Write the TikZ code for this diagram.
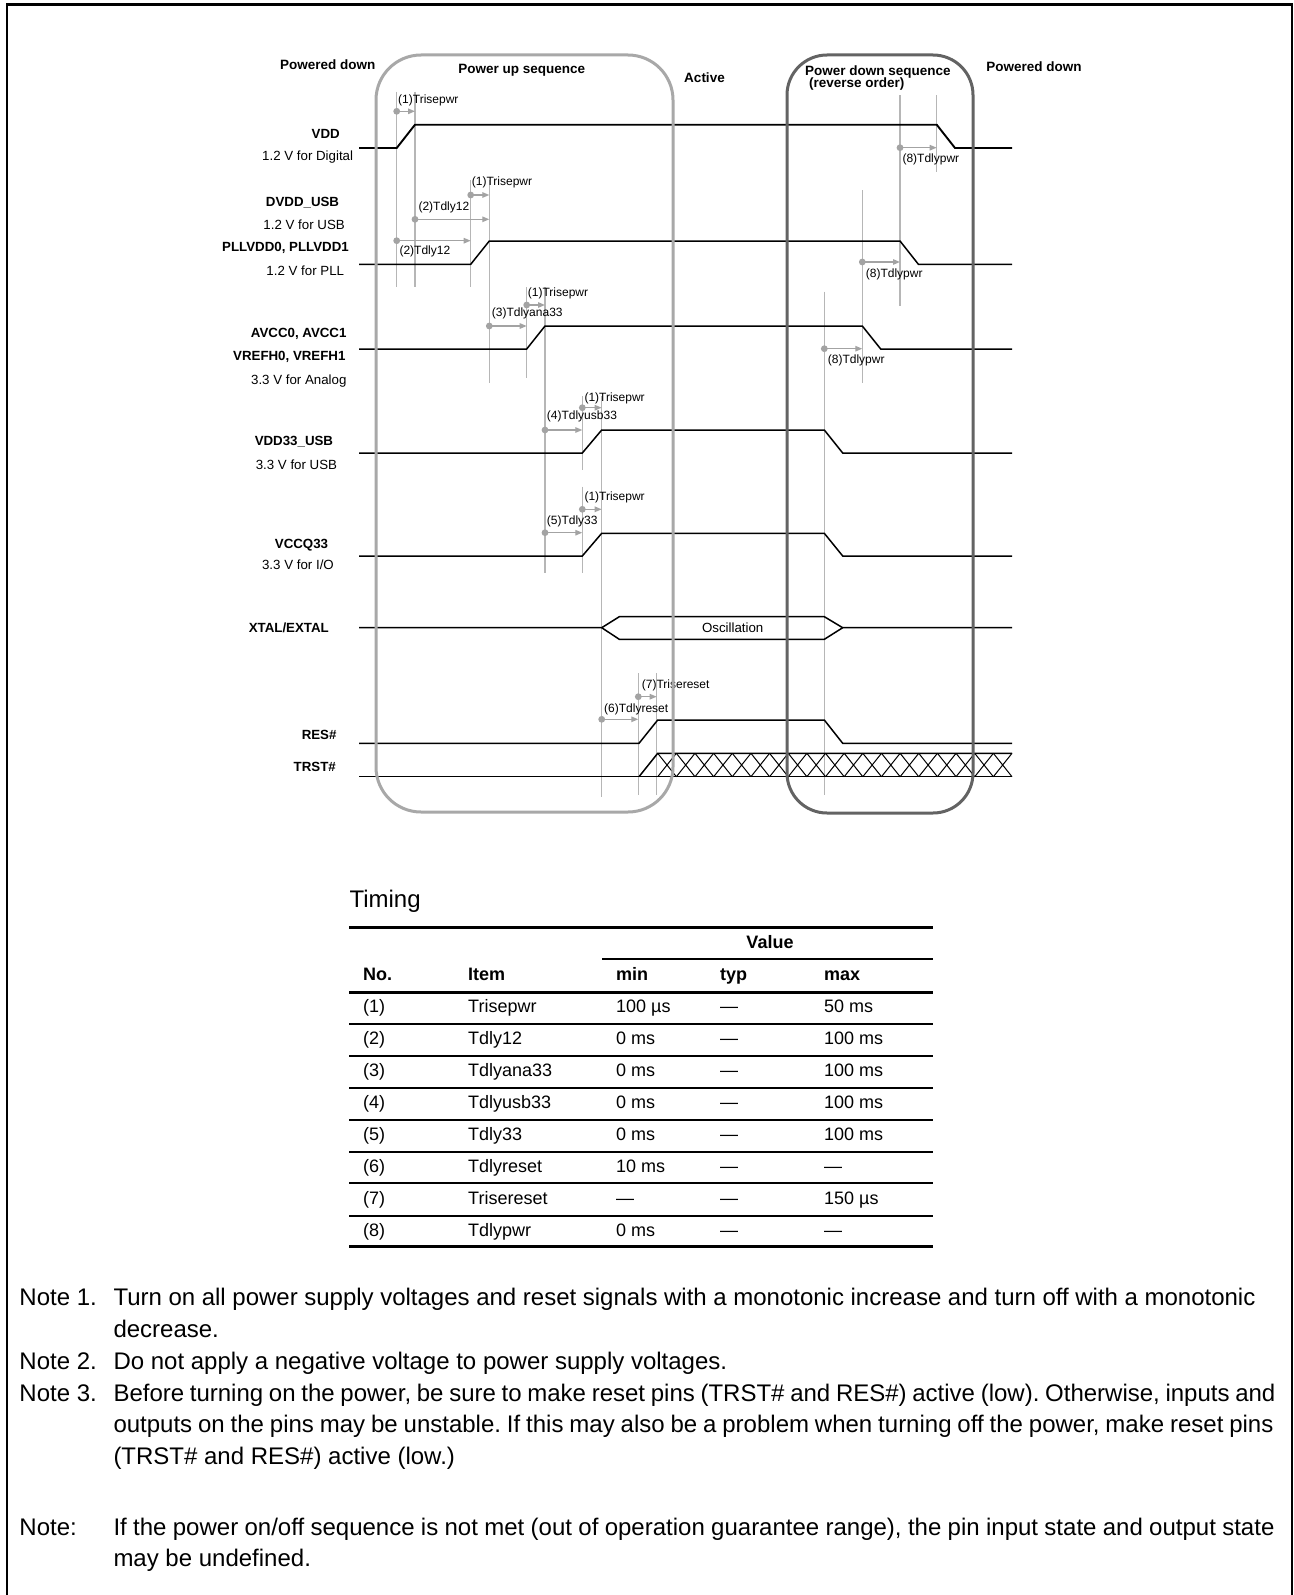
\documentclass[tikz,border=0pt]{standalone}
\usepackage{fontspec}
\setmainfont{Liberation Sans}
\usetikzlibrary{arrows.meta}
\definecolor{boxa}{HTML}{A8A8A8}
\definecolor{boxb}{HTML}{636363}
\definecolor{tgray}{HTML}{B6B6B6}
\definecolor{dgray}{HTML}{A3A3A3}
\frenchspacing
\begin{document}
\begin{tikzpicture}[x=1pt,y=-1pt,
  sig/.style={font=\fontsize{13.3}{15}\selectfont\bfseries, inner sep=0pt, anchor=east},
  sub/.style={font=\fontsize{13.3}{15}\selectfont, inner sep=0pt, anchor=east},
  hdr/.style={font=\fontsize{13.5}{15}\selectfont\bfseries, inner sep=0pt},
  tlab/.style={font=\fontsize{12}{14}\selectfont, inner sep=0pt, anchor=west},
  wave/.style={line width=1.5pt, black, line join=miter},
  tline/.style={line width=1.3pt, tgray},
  tarrow/.style={line width=1.3pt, dgray, -{Triangle[length=7pt,width=5.5pt]}},
  tdot/.style={circle, fill=dgray, inner sep=0pt, minimum size=6.8pt},
  boxone/.style={line width=3pt, boxa, rounded corners=45pt},
  boxtwo/.style={line width=3pt, boxb, rounded corners=40pt},
  cell/.style={font=\fontsize{18}{20}\selectfont, inner sep=0pt, anchor=west, text height=13pt, text depth=4pt},
  hcell/.style={font=\fontsize{18}{20}\selectfont\bfseries, inner sep=0pt, anchor=west, text height=13pt, text depth=4pt},
  note/.style={font=\fontsize{24}{28}\selectfont, inner sep=0pt, anchor=west, text height=17.5pt, text depth=5pt}
]
\useasboundingbox (0,0) rectangle (1293,1595);
% frame
\draw[line width=2.3pt] (7.2,1600) -- (7.2,4.5) -- (1291.8,4.5) -- (1291.8,1600);

% ---------- header labels
\node[hdr] (pd1) at (327.7,65) {Powered down};
\node[hdr] (pus) at (521.7,70.7) {Power up sequence};
\node[hdr] (act) at (704.5,77.3) {Active};
\node[hdr, anchor=west] (pds) at (805,71.7) {Power down sequence};
\node[hdr, anchor=west] (rev) at (809,84.5) {(reverse order)};
\node[hdr] (pd2) at (1034,66.5) {Powered down};

% ---------- signal labels
\node[sig] (lvdd) at (340,134.3) {VDD};
\node[sub] (svdd) at (353.3,157.3) {1.2 V for Digital};
\node[sig] (ldv) at (339.3,202.3) {DVDD\_USB};
\node[sub] (sdv) at (345,225) {1.2 V for USB};
\node[sig] (lpll) at (349,248.3) {PLLVDD0, PLLVDD1};
\node[sub] (spll) at (344.3,270.7) {1.2 V for PLL};
\node[sig] (lav) at (346.7,334.3) {AVCC0, AVCC1};
\node[sig] (lvr) at (345.7,356.7) {VREFH0, VREFH1};
\node[sub] (sav) at (346.7,380.7) {3.3 V for Analog};
\node[sig] (lu33) at (333.3,441.7) {VDD33\_USB};
\node[sub] (su33) at (337.3,464.3) {3.3 V for USB};
\node[sig] (lcq) at (328.3,545) {VCCQ33};
\node[sub] (scq) at (334,565) {3.3 V for I/O};
\node[sig] (lx) at (329,628.3) {XTAL/EXTAL};
\node[sig] (lres) at (336.7,735) {RES\#};
\node[sig] (ltr) at (336,766.7) {TRST\#};

% ---------- timing reference lines
\draw[tline] (396.7,91.7) -- (396.7,286.7);
\draw[tline] (415,91.7) -- (415,286.7);
\draw[tline] (470.7,180) -- (470.7,286.7);
\draw[tline] (489.3,180) -- (489.3,383);
\draw[tline] (526.7,287) -- (526.7,378);
\draw[tline] (545,287) -- (545,573.3);
\draw[tline] (582.3,396) -- (582.3,470);
\draw[tline] (582.3,486.7) -- (582.3,573.3);
\draw[tline] (601.7,396) -- (601.7,797);
\draw[tline] (638.3,673.3) -- (638.3,795);
\draw[tline] (656.7,673.3) -- (656.7,795);
\draw[tline] (936.7,95) -- (936.7,171.7);
\draw[tline] (900,95) -- (900,306);
\draw[tline] (862.3,190) -- (862.3,383);
\draw[tline] (824.3,291.7) -- (824.3,795);

% ---------- waveforms
\draw[wave, line width=1.9pt] (359,148) -- (396.7,148) -- (415,124.7) -- (936.7,124.7) -- (955,148) -- (1012,148);
\draw[wave] (359,264.3) -- (470.7,264.3) -- (489.3,241) -- (900,241) -- (918.4,264.3) -- (1012,264.3);
\draw[wave] (359,349) -- (526.7,349) -- (545,326) -- (862.3,326) -- (880.7,349) -- (1012,349);
\draw[wave] (359,453) -- (582.3,453) -- (601.7,430) -- (824.3,430) -- (842.7,453) -- (1012,453);
\draw[wave] (359,556) -- (582.3,556) -- (601.7,533.3) -- (824.3,533.3) -- (842.7,556) -- (1012,556);
\draw[wave] (359,627.7) -- (601.7,627.7) -- (619.3,616.7) -- (824.3,616.7) -- (842.7,627.7) -- (1012,627.7);
\draw[wave] (601.7,627.7) -- (619.3,639.3) -- (824.3,639.3) -- (842.7,627.7);
\node[font=\fontsize{13.3}{15}\selectfont, inner sep=0pt] (osc) at (732.7,627.3) {Oscillation};
\draw[wave] (359,743.3) -- (639,743.3) -- (657.7,720) -- (824.3,720) -- (842.7,743.3) -- (1012,743.3);
\draw[wave] (359,776.7) -- (1012,776.7);
\draw[wave] (639,776.7) -- (657.7,753.3) -- (1012,753.3);
\foreach \i in {0,...,18} {
  \pgfmathsetmacro\xa{657.7+\i*18.647}
  \pgfmathsetmacro\xb{\xa+18.647}
  \draw[line width=1pt] (\xa,753.3) -- (\xb,776.7) (\xa,776.7) -- (\xb,753.3);
}

% ---------- timing arrows
\node[tdot] (d1) at (396.7,111.3) {}; \coordinate (e1) at (415,111.3);
\draw[tarrow] (d1.center) -- (e1);
\node[tlab] (t1) at (398,100.7) {(1)Trisepwr};

\node[tdot] (d2) at (470.7,195) {}; \coordinate (e2) at (489.3,195);
\draw[tarrow] (d2.center) -- (e2);
\node[tlab] (t2) at (471.7,182.7) {(1)Trisepwr};

\node[tdot] (d3) at (415,219.3) {}; \coordinate (e3) at (489.3,219.3);
\draw[tarrow] (d3.center) -- (e3);
\node[tlab] (t3) at (418.3,207.7) {(2)Tdly12};

\node[tdot] (d4) at (396.7,240.7) {}; \coordinate (e4) at (470.7,240.7);
\draw[tarrow] (d4.center) -- (e4);
\node[tlab] (t4) at (399.3,251) {(2)Tdly12};

\node[tdot] (d5) at (526.7,305) {}; \coordinate (e5) at (545,305);
\draw[tarrow] (d5.center) -- (e5);
\node[tlab] (t5) at (527.7,293.7) {(1)Trisepwr};

\node[tdot] (d6) at (489.3,326) {}; \coordinate (e6) at (526.7,326);
\draw[tarrow] (d6.center) -- (e6);
\node[tlab] (t6) at (491.7,313.7) {(3)Tdlyana33};

\node[tdot] (d7) at (582.3,407.7) {}; \coordinate (e7) at (601.7,407.7);
\draw[tarrow] (d7.center) -- (e7);
\node[tlab] (t7) at (584.3,398.3) {(1)Trisepwr};

\node[tdot] (d8) at (545,430) {}; \coordinate (e8) at (582.3,430);
\draw[tarrow] (d8.center) -- (e8);
\node[tlab] (t8) at (546.7,416) {(4)Tdlyusb33};

\node[tdot] (d9) at (582.3,509.3) {}; \coordinate (e9) at (601.7,509.3);
\draw[tarrow] (d9.center) -- (e9);
\node[tlab] (t9) at (584.3,497.7) {(1)Trisepwr};

\node[tdot] (d10) at (545,532.7) {}; \coordinate (e10) at (582.3,532.7);
\draw[tarrow] (d10.center) -- (e10);
\node[tlab] (t10) at (546.7,521) {(5)Tdly33};

\node[tdot] (d11) at (601.7,719.3) {}; \coordinate (e11) at (638.3,719.3);
\draw[tarrow] (d11.center) -- (e11);
\node[tlab] (t11) at (604,709) {(6)Tdlyreset};

\node[tdot] (d12) at (638.3,696.7) {}; \coordinate (e12) at (656.7,696.7);
\draw[tarrow] (d12.center) -- (e12);
\node[tlab] (t12) at (641.7,685.7) {(7)Trisereset};

\node[tdot] (d13) at (900,147.7) {}; \coordinate (e13) at (936.7,147.7);
\draw[tarrow] (d13.center) -- (e13);
\node[tlab] (t13) at (902.3,159) {(8)Tdlypwr};

\node[tdot] (d14) at (862.3,262) {}; \coordinate (e14) at (900,262);
\draw[tarrow] (d14.center) -- (e14);
\node[tlab] (t14) at (865.7,274) {(8)Tdlypwr};

\node[tdot] (d15) at (824.3,348.7) {}; \coordinate (e15) at (862.3,348.7);
\draw[tarrow] (d15.center) -- (e15);
\node[tlab] (t15) at (827.7,360) {(8)Tdlypwr};

% ---------- phase boxes
\draw[boxone] (376,55) rectangle (673,812);
\draw[boxtwo] (787,55) rectangle (973,813);

% ---------- table
\node[font=\fontsize{24}{28}\selectfont, inner sep=0pt, anchor=west] (ttl) at (349.3,901.7) {Timing};
\draw[line width=3pt] (349,927.3) -- (933,927.3);
\draw[line width=2pt] (602,959.3) -- (933,959.3);
\draw[line width=3pt] (349,992) -- (933,992);
\foreach \yy in {1024,1055.7,1087.7,1120,1151.7,1183.3,1215.7}
  \draw[line width=2pt] (349,\yy) -- (933,\yy);
\draw[line width=3.5pt] (349,1246.7) -- (933,1246.7);
\node[hcell, anchor=center] (hv) at (770,943.5) {Value};
\node[hcell] (hno) at (363,976) {No.};
\node[hcell] (hit) at (468,976) {Item};
\node[hcell] (hmin) at (616,976) {min};
\node[hcell] (htyp) at (720,976) {typ};
\node[hcell] (hmax) at (824,976) {max};
\foreach \n/\it/\mn/\ty/\mx/\yy in {
  1/Trisepwr/100 µs/—/50 ms/1008.3,
  2/Tdly12/0 ms/—/100 ms/1040,
  3/Tdlyana33/0 ms/—/100 ms/1072,
  4/Tdlyusb33/0 ms/—/100 ms/1104,
  5/Tdly33/0 ms/—/100 ms/1136,
  6/Tdlyreset/10 ms/—/—/1167.7,
  7/Trisereset/—/—/150 µs/1200,
  8/Tdlypwr/0 ms/—/—/1231.7} {
  \node[cell] (no\n) at (363,\yy) {(\n)};
  \node[cell] (it\n) at (468,\yy) {\it};
  \node[cell] (mn\n) at (616,\yy) {\mn};
  \node[cell] (ty\n) at (720,\yy) {\ty};
  \node[cell] (mx\n) at (824,\yy) {\mx};
}

% ---------- notes
\node[note] (n1a) at (19.3,1299.3) {Note 1.};
\node[note] (n1b) at (113.3,1299.3) {\makebox[1142pt][s]{Turn on all power supply voltages and reset signals with a monotonic increase and turn off with a monotonic}};
\node[note] (n1c) at (113.3,1331.7) {decrease.};
\node[note] (n2a) at (19.3,1363.3) {Note 2.};
\node[note] (n2b) at (113.3,1363.3) {Do not apply a negative voltage to power supply voltages.};
\node[note] (n3a) at (19.3,1395) {Note 3.};
\node[note] (n3b) at (113.3,1395) {\makebox[1162pt][s]{Before turning on the power, be sure to make reset pins (TRST\# and RES\#) active (low). Otherwise, inputs and}};
\node[note] (n3c) at (113.3,1426.7) {\makebox[1160pt][s]{outputs on the pins may be unstable. If this may also be a problem when turning off the power, make reset pins}};
\node[note] (n3d) at (113.3,1458.3) {(TRST\# and RES\#) active (low.)};
\node[note] (n4a) at (19.3,1529.3) {Note:};
\node[note] (n4b) at (113.3,1529.3) {\makebox[1161pt][s]{If the power on/off sequence is not met (out of operation guarantee range), the pin input state and output state}};
\node[note] (n4c) at (113.3,1560) {may be undefined.};
\end{tikzpicture}
\end{document}
